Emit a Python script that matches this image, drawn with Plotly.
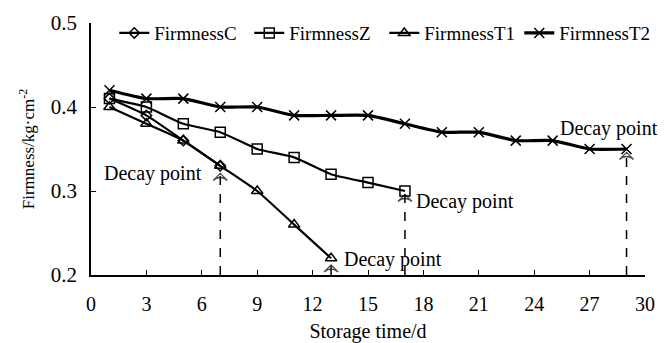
import plotly.graph_objects as go

days_c = [1, 3, 5, 7]
firm_c = [0.41, 0.39, 0.36, 0.33]
days_z = [1, 3, 5, 7, 9, 11, 13, 15, 17]
firm_z = [0.41, 0.40, 0.38, 0.37, 0.35, 0.34, 0.32, 0.31, 0.30]
days_t1 = [1, 3, 5, 7, 9, 11, 13]
firm_t1 = [0.40, 0.38, 0.36, 0.33, 0.30, 0.26, 0.22]
days_t2 = [1, 3, 5, 7, 9, 11, 13, 15, 17, 19, 21, 23, 25, 27, 29]
firm_t2 = [0.42, 0.41, 0.41, 0.40, 0.40, 0.39, 0.39, 0.39, 0.38, 0.37, 0.37, 0.36, 0.36, 0.35, 0.35]

decay_days = [7, 13, 17, 29]
decay_tips = [0.321, 0.212, 0.296, 0.346]
decay_label = "Decay point"

x_ticks = [0, 3, 6, 9, 12, 15, 18, 21, 24, 27, 30]
y_ticks = [0.2, 0.3, 0.4, 0.5]

FONT = "Liberation Serif"
FS = 20

fig = go.Figure()

series = [
    ("FirmnessC", days_c, firm_c, "diamond-open", 8, 2.2),
    ("FirmnessZ", days_z, firm_z, "square-open", 10, 2.2),
    ("FirmnessT1", days_t1, firm_t1, "triangle-up-open", 10, 2.2),
    ("FirmnessT2", days_t2, firm_t2, "x-thin-open", 10, 3.2),
]
for name, xs, ys, sym, size, lw in series:
    fig.add_trace(go.Scatter(
        x=xs, y=ys, name=name, mode="lines+markers",
        line=dict(color="black", width=lw, shape="spline", smoothing=0.5),
        marker=dict(symbol=sym, size=size, color="black",
                    line=dict(color="black", width=1.5)),
        cliponaxis=False,
    ))

# dashed decay lines with open arrow heads
for d, tip in zip(decay_days, decay_tips):
    fig.add_trace(go.Scatter(
        x=[d, d], y=[0.2, tip], mode="lines+markers", showlegend=False,
        hoverinfo="skip", cliponaxis=False,
        line=dict(color="black", width=1.5, dash="dash"),
        marker=dict(symbol=["line-ew", "arrow-wide-open"], size=[0, 10],
                    color="black", line=dict(color="black", width=1.3)),
    ))

label_pos = [
    (6.1, 0.321, "right"),
    (13.6, 0.219, "left"),
    (17.5, 0.288, "left"),
    (25.3, 0.375, "left"),
]
for lx, ly, anc in label_pos:
    fig.add_annotation(x=lx, y=ly, xref="x", yref="y", text=decay_label,
                       showarrow=False, xanchor=anc, yanchor="middle",
                       font=dict(family=FONT, size=FS, color="black"))

fig.update_layout(
    width=670, height=343,
    margin=dict(l=91, r=25, t=23, b=68),
    paper_bgcolor="white", plot_bgcolor="white",
    font=dict(family=FONT, size=FS, color="black"),
    showlegend=True,
    legend=dict(orientation="h", x=0.042, y=0.96, xanchor="left",
                yanchor="middle", bgcolor="rgba(0,0,0,0)",
                font=dict(family=FONT, size=19), itemwidth=30,
                entrywidth=90, entrywidthmode="pixels",
                tracegroupgap=0),
    xaxis=dict(range=[0, 30], tickvals=x_ticks, ticks="inside", ticklen=5,
               showline=True, linecolor="black", linewidth=1.5,
               tickcolor="black", showgrid=False, zeroline=False,
               ticklabelstandoff=10, automargin=False,
               title=dict(text="Storage time/d", font=dict(family=FONT, size=FS),
                          standoff=16),
               tickfont=dict(family=FONT, size=FS)),
    yaxis=dict(range=[0.2, 0.5], tickvals=y_ticks, ticktext=["0.2", "0.3", "0.4", "0.5"],
               ticks="inside", ticklen=5,
               showline=True, linecolor="black", linewidth=1.5,
               tickcolor="black", showgrid=False, zeroline=False,
               ticklabelstandoff=8, automargin=False,
               title=dict(text="Firmness/kg·cm<sup>-2</sup>",
                          font=dict(family=FONT, size=17), standoff=12),
               tickfont=dict(family=FONT, size=21)),
)

fig.write_html("out.html")
